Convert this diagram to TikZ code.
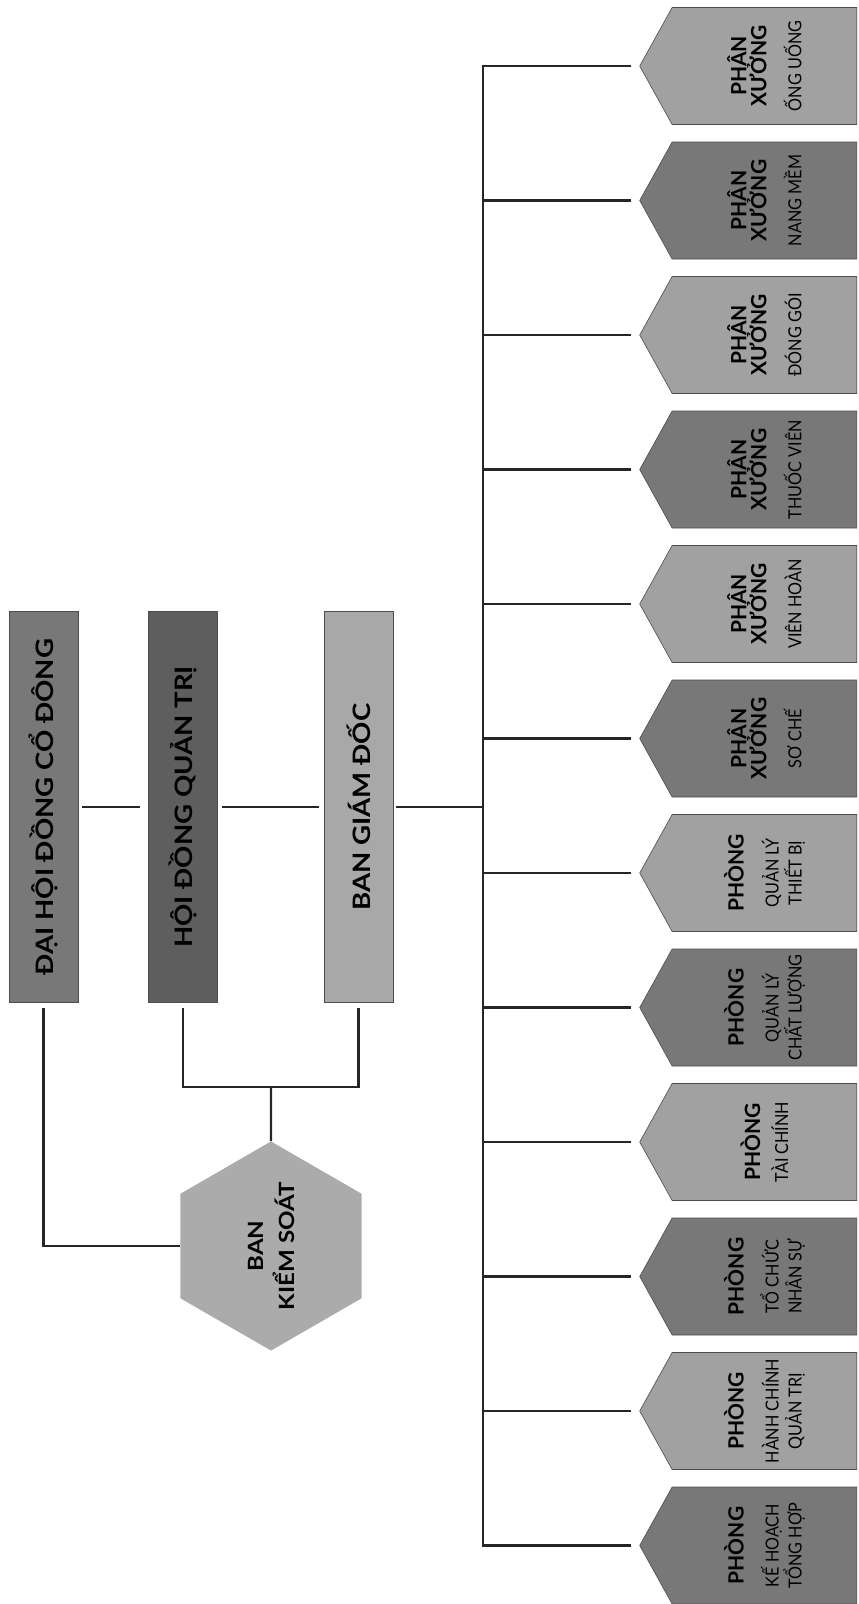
\documentclass[tikz,border=0pt]{standalone}
\usepackage{fontspec}
\setmainfont{Lato}
\newfontfamily\titlefont[FakeStretch=1.15]{Lato}
\newfontfamily\narrowfont[FakeStretch=0.9]{Lato}
\usepackage{graphicx}
\usetikzlibrary{shapes.geometric, shapes.symbols}
\definecolor{tablite}{gray}{0.63}
\definecolor{tabdeep}{gray}{0.47}
\definecolor{boxmid}{gray}{0.47}
\definecolor{boxdeep}{gray}{0.37}
\definecolor{boxlite}{gray}{0.66}
\definecolor{hexgray}{gray}{0.67}
\definecolor{edgegray}{gray}{0.30}
\newcommand{\vtext}[1]{\rotatebox{90}{#1}}
\newcommand{\vstack}[2]{\rotatebox{90}{\vbox{\baselineskip=#1\lineskiplimit=-40pt\lineskip=0pt
	\halign{\hfil##\hfil\cr#2\crcr}}}}
\newcommand{\hb}[1]{{\fontsize{21}{21}\selectfont\bfseries #1}}
\newcommand{\hn}[1]{{\narrowfont\fontsize{18}{18}\selectfont #1}}
\newcommand{\kt}[1]{{\titlefont\fontsize{21}{21}\selectfont\bfseries #1}}
\newcommand{\sk}[1]{\noalign{\vskip#1}}

\begin{document}
\begin{tikzpicture}[x=1pt, y=-1pt,
				topbox/.style={rectangle, draw=edgegray, line width=0.6pt,
					minimum width=69pt, minimum height=391pt, inner sep=0pt,
					font=\titlefont\bfseries\fontsize{24}{24}\selectfont},
				hexbox/.style={regular polygon, regular polygon sides=6,
					shape border rotate=30, minimum size=208pt, inner sep=0pt,
					fill=hexgray},
				tabbox/.style={shape=signal, signal to=west, signal pointer angle=122,
					minimum width=217pt, minimum height=117pt, inner sep=0pt,
					draw=edgegray, line width=0.6pt, anchor=east},
				litetab/.style={tabbox, fill=tablite},
				deeptab/.style={tabbox, fill=tabdeep},
				wire/.style={line width=2.2pt, black!85}
				]
				\useasboundingbox (0,0) rectangle (859,1604);
				\node[topbox, fill=boxmid] (dhcd) at (43.5,807) {\vtext{ĐẠI HỘI ĐỒNG CỔ ĐÔNG}};
				\node[topbox, fill=boxdeep] (hdqt) at (183,807) {\vtext{HỘI ĐỒNG QUẢN TRỊ}};
				\node[topbox, fill=boxlite] (bgd) at (358.5,807) {\vtext{BAN GIÁM ĐỐC}};
				\node[hexbox] (bks) at (271,1246) {\vstack{31pt}{\kt{BAN}\cr\kt{KIỂM SOÁT}}};
				\coordinate (jn) at (271,1087);
				\coordinate (bus) at (483,807);
				\node[litetab] (t1) at (857,66) {\vstack{20pt}{\hb{PHÂN}\cr\hb{XƯỞNG}\cr\sk{15pt}\hn{ỐNG UỐNG}}};
				\node[deeptab] (t2) at (857,200.5) {\vstack{20pt}{\hb{PHÂN}\cr\hb{XƯỞNG}\cr\sk{15pt}\hn{NANG MỀM}}};
				\node[litetab] (t3) at (857,335) {\vstack{20pt}{\hb{PHÂN}\cr\hb{XƯỞNG}\cr\sk{15pt}\hn{ĐÓNG GÓI}}};
				\node[deeptab] (t4) at (857,469.5) {\vstack{20pt}{\hb{PHÂN}\cr\hb{XƯỞNG}\cr\sk{15pt}\hn{THUỐC VIÊN}}};
				\node[litetab] (t5) at (857,604) {\vstack{20pt}{\hb{PHÂN}\cr\hb{XƯỞNG}\cr\sk{15pt}\hn{VIÊN HOÀN}}};
				\node[deeptab] (t6) at (857,738.5) {\vstack{20pt}{\hb{PHÂN}\cr\hb{XƯỞNG}\cr\sk{15pt}\hn{SƠ CHẾ}}};
				\node[litetab] (t7) at (857,873) {\vstack{20pt}{\hb{PHÒNG}\cr\sk{15pt}\hn{QUẢN LÝ}\cr\sk{3pt}\hn{THIẾT BỊ}}};
				\node[deeptab] (t8) at (857,1007.5) {\vstack{20pt}{\hb{PHÒNG}\cr\sk{15pt}\hn{QUẢN LÝ}\cr\sk{3pt}\hn{CHẤT LƯỢNG}}};
				\node[litetab] (t9) at (857,1142) {\vstack{20pt}{\hb{PHÒNG}\cr\sk{8pt}\hn{TÀI CHÍNH}}};
				\node[deeptab] (t10) at (857,1276.5) {\vstack{20pt}{\hb{PHÒNG}\cr\sk{15pt}\hn{TỔ CHỨC}\cr\sk{3pt}\hn{NHÂN SỰ}}};
				\node[litetab] (t11) at (857,1411) {\vstack{20pt}{\hb{PHÒNG}\cr\sk{15pt}\hn{HÀNH CHÍNH}\cr\sk{3pt}\hn{QUẢN TRỊ}}};
				\node[deeptab] (t12) at (857,1545.5) {\vstack{20pt}{\hb{PHÒNG}\cr\sk{15pt}\hn{KẾ HOẠCH}\cr\sk{3pt}\hn{TỔNG HỢP}}};
				\draw[wire, shorten <=4pt, shorten >=8pt] (dhcd) -- (hdqt);
				\draw[wire, shorten <=4pt, shorten >=5pt] (hdqt) -- (bgd);
				\draw[wire, shorten <=3pt] (bgd) -- (bus);
				\draw[wire] ([yshift=-5pt]dhcd.south) |- (bks.west);
				\draw[wire] ([yshift=-5pt]hdqt.south) |- (jn) -| ([yshift=-5pt]bgd.south);
				\draw[wire] (jn) -- (bks.north);
				\draw[wire] ([xshift=-8pt]t1.west) -| (bus) |- ([xshift=-8pt]t12.west);
				\draw[wire, shorten >=8pt] (bus |- t2.west) -- (t2.west);
				\draw[wire, shorten >=8pt] (bus |- t3.west) -- (t3.west);
				\draw[wire, shorten >=8pt] (bus |- t4.west) -- (t4.west);
				\draw[wire, shorten >=8pt] (bus |- t5.west) -- (t5.west);
				\draw[wire, shorten >=8pt] (bus |- t6.west) -- (t6.west);
				\draw[wire, shorten >=8pt] (bus |- t7.west) -- (t7.west);
				\draw[wire, shorten >=8pt] (bus |- t8.west) -- (t8.west);
				\draw[wire, shorten >=8pt] (bus |- t9.west) -- (t9.west);
				\draw[wire, shorten >=8pt] (bus |- t10.west) -- (t10.west);
				\draw[wire, shorten >=8pt] (bus |- t11.west) -- (t11.west);
			\end{tikzpicture}
\end{document}
